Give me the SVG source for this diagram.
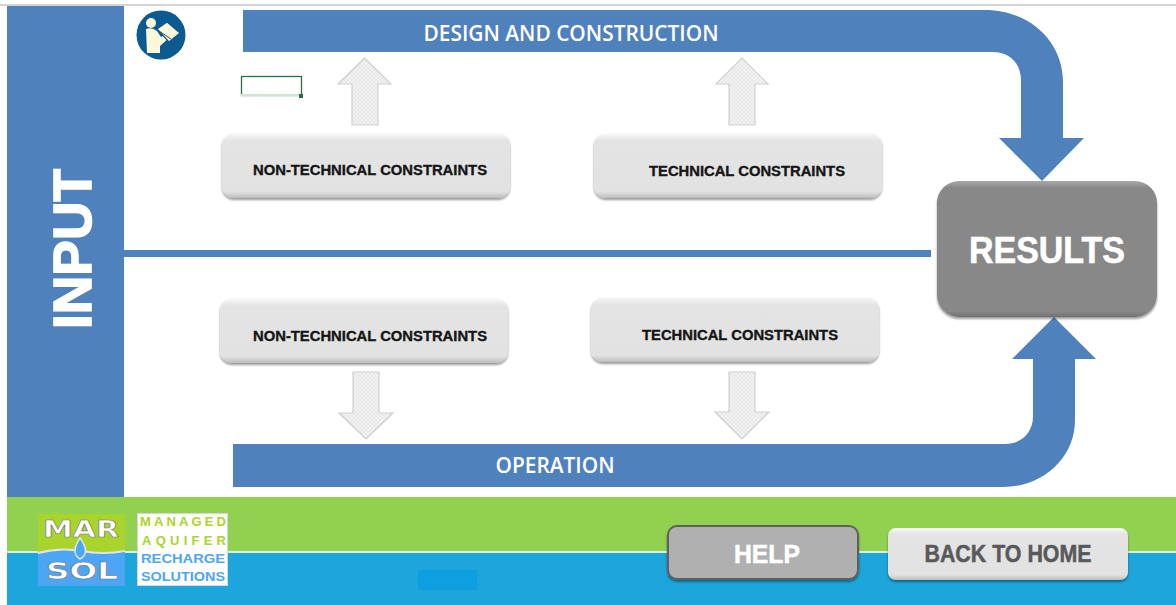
<svg xmlns="http://www.w3.org/2000/svg" width="1176" height="605" viewBox="0 0 1176 605">
<defs>
<pattern id="hatch" width="4" height="4" patternUnits="userSpaceOnUse"><rect width="4" height="4" fill="#f4f4f4"/><path d="M0 4L4 0M0 0L4 4" stroke="#e0e0e0" stroke-width="0.7"/></pattern>
<linearGradient id="btn" x1="0" y1="0" x2="0" y2="1"><stop offset="0" stop-color="#fafafa"/><stop offset="0.12" stop-color="#e4e4e4"/><stop offset="0.9" stop-color="#e2e2e2"/><stop offset="1" stop-color="#bdbdbd"/></linearGradient>
<linearGradient id="res" x1="0" y1="0" x2="0" y2="1"><stop offset="0" stop-color="#a8a8a8"/><stop offset="0.05" stop-color="#888"/><stop offset="0.96" stop-color="#888"/><stop offset="1" stop-color="#707070"/></linearGradient>
<filter id="sh" x="-5%" y="-10%" width="110%" height="125%"><feGaussianBlur in="SourceAlpha" stdDeviation="1.200"/><feOffset dy="1.500"/><feComponentTransfer><feFuncA type="linear" slope="0.4"/></feComponentTransfer><feMerge><feMergeNode/><feMergeNode in="SourceGraphic"/></feMerge></filter>
</defs>
<style>
text{font-family:"Liberation Sans",Arial,sans-serif;font-weight:700;text-anchor:middle}
.flow{fill:#4f81bd}
.hollow{fill:url(#hatch);stroke:#cfcfcf;stroke-width:1.2}
.box{fill:url(#btn);filter:url(#sh)}
.cons{font-size:14.500px;fill:#151515;stroke:#151515;stroke-width:0.350}
.band{font-family:"Open Sans","Liberation Sans",sans-serif;font-size:21px;font-weight:600;fill:#fff}
.mark{font-family:"DejaVu Sans",sans-serif;font-size:23px;fill:#fff;stroke:#777;stroke-width:0.600}
.tag{font-size:13px}
</style>
<rect width="1176" height="605" fill="#fff"/>
<rect x="0" y="4" width="1176" height="2" fill="#d4d4d4"/>
<g id="input"><rect x="7" y="6" width="117" height="491" fill="#4f81bd"/>
<text transform="translate(91 249) rotate(-90)" font-size="54" fill="#fff" stroke="#fff" stroke-width="1.600" textLength="160" lengthAdjust="spacingAndGlyphs">INPUT</text></g>
<g id="footer"><rect x="7" y="497" width="1169" height="54" fill="#92d050"/><rect x="7" y="551" width="1169" height="2" fill="#d9efe0"/><rect x="7" y="553" width="1169" height="52" fill="#1ca6dc"/><rect x="418" y="570" width="59" height="20" fill="#0e9fe0"/></g>
<g id="connectors">
<path class="flow" d="M243 10H985C1030 10 1063 42 1063 82V138H1084L1042 181L999 138H1021V80C1021 63 1009 52 993 52H243Z"/>
<path class="flow" d="M233 444H1005C1021 444 1033 433 1033 416V359H1012L1054 317L1096 359H1075V420C1075 458 1043 487 1003 487H233Z"/>
<rect class="flow" x="124" y="250" width="807" height="7"/>
<path class="hollow" d="M352 125V84H338L364.500 58L391 84H378V125Z"/>
<path class="hollow" d="M729 125V84H716L742 58L768 84H755V125Z"/>
<path class="hollow" d="M353 372V413H339L366 439L393 413H379V372Z"/>
<path class="hollow" d="M729 372V412H715L742 439L769 412H755V372Z"/>
</g>
<g id="band-labels"><text class="band" x="571" y="41" textLength="295" lengthAdjust="spacingAndGlyphs">DESIGN AND CONSTRUCTION</text><text class="band" x="555" y="473" textLength="119" lengthAdjust="spacingAndGlyphs">OPERATION</text></g>
<g id="manual-icon"><circle cx="161" cy="35" r="24.500" fill="#0c5a8f"/>
<circle cx="151" cy="23" r="5" fill="#fdf8d8"/><path d="M146 29Q152 27 157 31L161 37L168 33L170 37L160 46V53H147Z" fill="#fdf8d8"/><path d="M157 29L167 22L180 33L169 42Z" fill="#fdf8d8" stroke="#0c5a8f" stroke-width="1.200"/><path d="M159 31L171 39" stroke="#0c5a8f" stroke-width="1"/></g>
<g id="selection"><rect x="241.500" y="76.500" width="60" height="19" fill="#fff" stroke="#217346" stroke-width="1.300"/><rect x="241" y="94" width="60" height="2" fill="#cfe3d6"/><rect x="299" y="94" width="4" height="4" fill="#217346"/></g>
<g id="n1"><rect class="box" x="222" y="133" width="288" height="65" rx="12"/><text class="cons" x="370" y="175" textLength="234" lengthAdjust="spacingAndGlyphs">NON-TECHNICAL CONSTRAINTS</text></g>
<g id="n2"><rect class="box" x="594" y="133" width="288" height="65" rx="12"/><text class="cons" x="747" y="176" textLength="196" lengthAdjust="spacingAndGlyphs">TECHNICAL CONSTRAINTS</text></g>
<g id="n3"><rect class="box" x="220" y="298" width="288" height="65" rx="12"/><text class="cons" x="370" y="341" textLength="234" lengthAdjust="spacingAndGlyphs">NON-TECHNICAL CONSTRAINTS</text></g>
<g id="n4"><rect class="box" x="591" y="297" width="288" height="65" rx="12"/><text class="cons" x="740" y="340" textLength="196" lengthAdjust="spacingAndGlyphs">TECHNICAL CONSTRAINTS</text></g>
<g id="results"><rect x="937" y="181" width="220" height="136" rx="22" fill="url(#res)" filter="url(#sh)"/><text x="1047" y="263" font-size="36" fill="#fff" stroke="#fff" stroke-width="0.600" textLength="156" lengthAdjust="spacingAndGlyphs">RESULTS</text></g>
<g id="help"><rect x="668" y="526" width="190" height="53" rx="9" fill="#b0b0b0" stroke="#606060" stroke-width="2" filter="url(#sh)"/><text x="767" y="563" font-size="25" fill="#fff" stroke="#fff" stroke-width="0.500" textLength="66" lengthAdjust="spacingAndGlyphs">HELP</text></g>
<g id="home"><rect x="888" y="528" width="240" height="52" rx="8" class="box"/><text x="1008" y="562" font-size="24" fill="#595959" stroke="#595959" stroke-width="0.500" textLength="167" lengthAdjust="spacingAndGlyphs">BACK TO HOME</text></g>
<g id="logo"><rect x="38" y="514" width="87" height="72" fill="#a9d42c"/><path d="M38 553Q60 547 81 551Q103 555 125 551V586H38Z" fill="#4da6f5"/><path d="M38 553Q60 547 81 551Q103 555 125 551" fill="none" stroke="#e4e4e4" stroke-width="2"/>
<path d="M80 538Q70 553 80 559Q91 553 80 538Z" fill="#4da6f5" stroke="#e4e4e4" stroke-width="1.500"/>
<text class="mark" x="81" y="537" textLength="76" lengthAdjust="spacingAndGlyphs">MAR</text>
<text class="mark" x="82" y="579" textLength="72" lengthAdjust="spacingAndGlyphs">SOL</text>
<rect x="137.500" y="513.500" width="90" height="72" fill="#fff" stroke="#d6d6d6"/>
<text class="tag" x="183" y="526" fill="#a9d42c" textLength="86">MANAGED</text>
<text class="tag" x="184" y="545" fill="#a9d42c" textLength="84">AQUIFER</text>
<text class="tag" x="183" y="563" fill="#4da6f5" textLength="84" lengthAdjust="spacingAndGlyphs">RECHARGE</text>
<text class="tag" x="183" y="581" fill="#4da6f5" textLength="84" lengthAdjust="spacingAndGlyphs">SOLUTIONS</text></g>
</svg>
